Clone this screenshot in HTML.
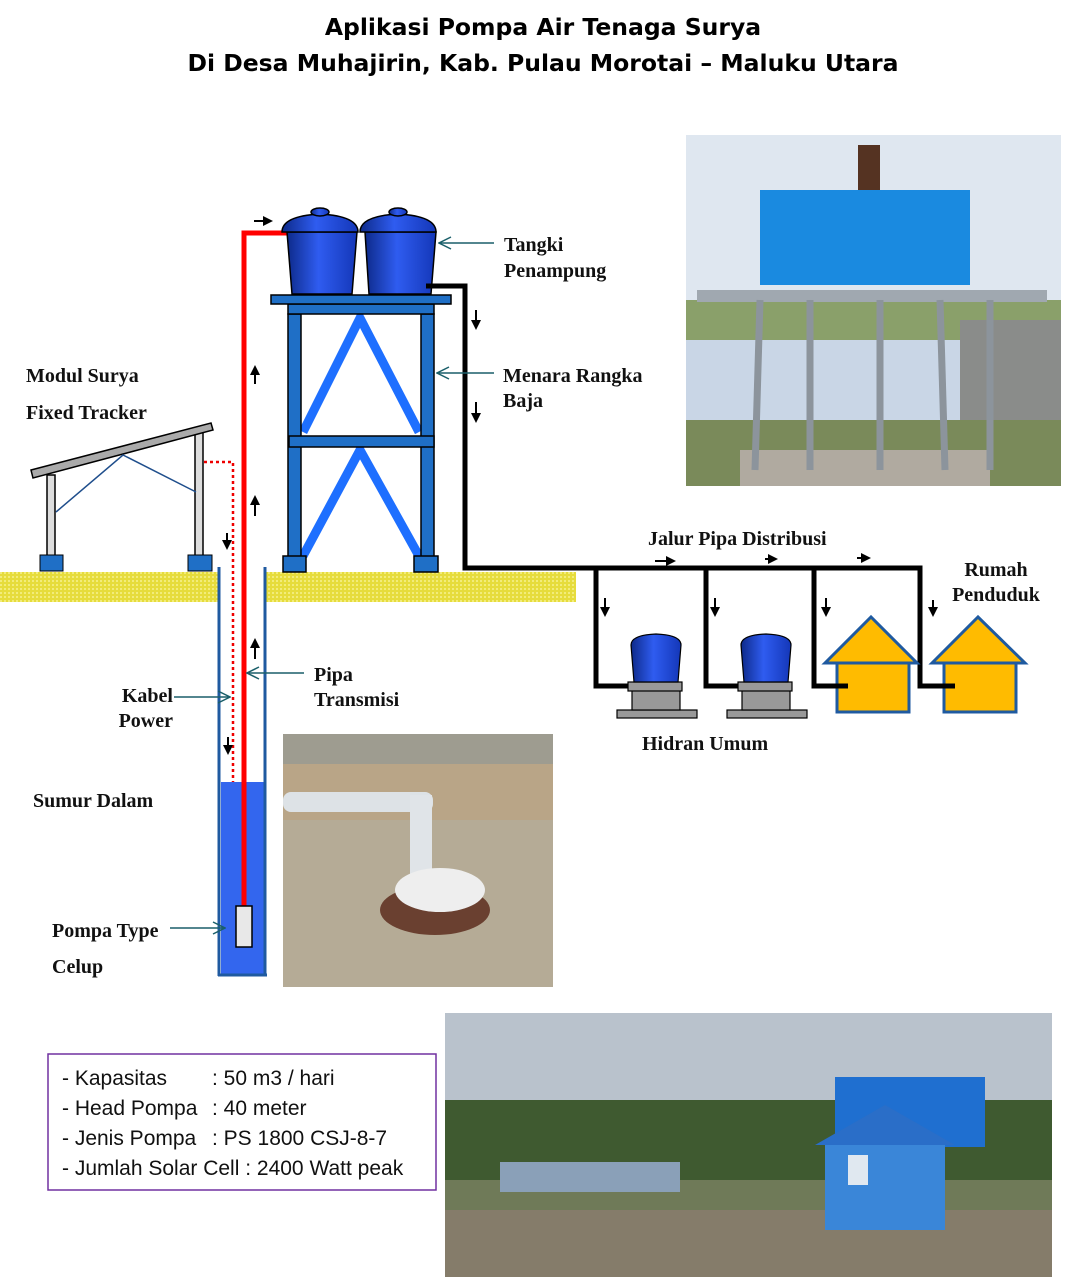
<!DOCTYPE html>
<html><head><meta charset="utf-8"><style>
html,body{margin:0;padding:0;background:#fff}
svg{display:block}
.t{font-family:"DejaVu Sans","Liberation Sans",sans-serif;font-weight:bold;font-size:23.5px;fill:#000}
.l{font-family:"Liberation Serif",serif;font-weight:bold;font-size:20px;fill:#111}
.i{font-family:"Liberation Sans Narrow","Liberation Sans",sans-serif;font-size:21px;fill:#111}
</style></head><body>
<svg width="1084" height="1277" viewBox="0 0 1084 1277" xmlns="http://www.w3.org/2000/svg">
<defs>
<pattern id="gr" width="4" height="4" patternUnits="userSpaceOnUse"><rect width="4" height="4" fill="#e6dc3c"/><rect width="2" height="2" fill="#f2ec7a"/></pattern>
<linearGradient id="tk" x1="0" x2="1"><stop offset="0" stop-color="#0d2a8a"/><stop offset="0.45" stop-color="#2f5cf0"/><stop offset="1" stop-color="#1437b8"/></linearGradient>
<marker id="ah" markerUnits="userSpaceOnUse" markerWidth="10" markerHeight="10" refX="5" refY="5" orient="auto"><path d="M0,0L10,5L0,10z" fill="#000"/></marker>
<marker id="oa" markerUnits="userSpaceOnUse" markerWidth="14" markerHeight="14" refX="13" refY="7" orient="auto"><path d="M1,1L13,7L1,13" fill="none" stroke="#1a5f6a" stroke-width="1.5"/></marker>
</defs>
<text class="t" x="543" y="35" text-anchor="middle">Aplikasi Pompa Air Tenaga Surya</text>
<text class="t" x="543" y="71" text-anchor="middle">Di Desa Muhajirin, Kab. Pulau Morotai – Maluku Utara</text>

<rect x="0" y="572" width="218" height="30" fill="url(#gr)"/>
<rect x="266" y="572" width="310" height="30" fill="url(#gr)"/>

<rect x="47" y="475" width="8" height="82" fill="#ddd" stroke="#000" stroke-width="1.5"/>
<rect x="195" y="430" width="8" height="127" fill="#ddd" stroke="#000" stroke-width="1.5"/>
<polygon points="31,470 211,423 213,430 33,478" fill="#aaa" stroke="#000" stroke-width="1.5"/>
<polyline points="56,512 123,455 196,492" fill="none" stroke="#1f4e8c" stroke-width="1.5"/>
<rect x="40" y="555" width="23" height="16" fill="#1f6fc6" stroke="#000"/>
<rect x="188" y="555" width="24" height="16" fill="#1f6fc6" stroke="#000"/>
<polyline points="204,462 233,462 233,900" fill="none" stroke="#e00" stroke-width="2.5" stroke-dasharray="3,3"/>

<rect x="221" y="782" width="44" height="193" fill="#3366ee"/>
<line x1="219" y1="567" x2="219" y2="976" stroke="#1f5aa0" stroke-width="3"/>
<line x1="265" y1="567" x2="265" y2="976" stroke="#1f5aa0" stroke-width="3"/>
<line x1="218" y1="975" x2="267" y2="975" stroke="#1f5aa0" stroke-width="3"/>
<polyline points="244,906 244,233 287,233" fill="none" stroke="#f00" stroke-width="5"/>
<rect x="236" y="906" width="16" height="41" fill="#e8e8e8" stroke="#000" stroke-width="1.5"/>

<g stroke="#000" stroke-width="2">
<line x1="255" y1="384" x2="255" y2="370" marker-end="url(#ah)"/>
<line x1="255" y1="516" x2="255" y2="500" marker-end="url(#ah)"/>
<line x1="255" y1="659" x2="255" y2="643" marker-end="url(#ah)"/>
<line x1="227" y1="533" x2="227" y2="545" marker-end="url(#ah)"/>
<line x1="228" y1="737" x2="228" y2="750" marker-end="url(#ah)"/>
<line x1="254" y1="221" x2="268" y2="221" marker-end="url(#ah)"/>
<line x1="476" y1="310" x2="476" y2="325" marker-end="url(#ah)"/>
<line x1="476" y1="402" x2="476" y2="418" marker-end="url(#ah)"/>
<line x1="655" y1="561" x2="671" y2="561" marker-end="url(#ah)"/>
<line x1="765" y1="559" x2="773" y2="559" marker-end="url(#ah)"/>
<line x1="857" y1="558" x2="866" y2="558" marker-end="url(#ah)"/>
<line x1="605" y1="598" x2="605" y2="612" marker-end="url(#ah)"/>
<line x1="715" y1="598" x2="715" y2="612" marker-end="url(#ah)"/>
<line x1="826" y1="598" x2="826" y2="612" marker-end="url(#ah)"/>
<line x1="933" y1="600" x2="933" y2="612" marker-end="url(#ah)"/>
</g>

<g stroke="#1e6fff" stroke-width="9">
<polyline points="303,432 360,318 419,432" fill="none"/>
<polyline points="303,556 360,450 419,556" fill="none"/>
</g>
<g fill="#1f6fc6" stroke="#000" stroke-width="1.5">
<rect x="288" y="314" width="13" height="244"/>
<rect x="421" y="314" width="13" height="244"/>
<rect x="288" y="304" width="146" height="10"/>
<rect x="271" y="295" width="180" height="9"/>
<rect x="289" y="436" width="145" height="11"/>
<rect x="283" y="556" width="23" height="16"/>
<rect x="414" y="556" width="24" height="16"/>
</g>
<g stroke="#000" stroke-width="1.5" fill="url(#tk)">
<path d="M287,232 L292,294 L352,294 L357,232 Z"/>
<path d="M282,232 Q282,216 320,214 Q358,216 358,232 Z"/>
<ellipse cx="320" cy="212" rx="9" ry="4"/>
<path d="M365,232 L369,294 L431,294 L436,232 Z"/>
<path d="M360,232 Q360,216 398,214 Q436,216 436,232 Z"/>
<ellipse cx="398" cy="212" rx="9" ry="4"/>
</g>

<g fill="none" stroke="#000" stroke-width="5">
<polyline points="426,286 465,286 465,568 920,568 920,686 955,686"/>
<polyline points="596,568 596,686 630,686"/>
<polyline points="706,568 706,686 740,686"/>
<polyline points="814,568 814,686 848,686"/>
</g>
<g stroke="#000" stroke-width="1.2">
<g>
<rect x="617" y="710" width="80" height="8" fill="#999"/>
<rect x="632" y="690" width="48" height="20" fill="#999"/>
<rect x="628" y="682" width="54" height="9" fill="#999"/>
<path d="M631,645 L634,682 L678,682 L681,645 Q681,635 656,634 Q631,635 631,645Z" fill="url(#tk)"/>
</g>
<g transform="translate(110,0)">
<rect x="617" y="710" width="80" height="8" fill="#999"/>
<rect x="632" y="690" width="48" height="20" fill="#999"/>
<rect x="628" y="682" width="54" height="9" fill="#999"/>
<path d="M631,645 L634,682 L678,682 L681,645 Q681,635 656,634 Q631,635 631,645Z" fill="url(#tk)"/>
</g>
</g>
<g fill="#ffbb00" stroke="#1f5aa0" stroke-width="3">
<rect x="837" y="663" width="72" height="49"/>
<polygon points="825,663 871,617 917,663"/>
<rect x="944" y="663" width="72" height="49"/>
<polygon points="932,663 978,617 1025,663"/>
</g>
<g stroke="#000" stroke-width="5"><line x1="918" y1="686" x2="955" y2="686"/><line x1="812" y1="686" x2="848" y2="686"/></g>

<g stroke="#1a5f6a" stroke-width="1.5">
<line x1="494" y1="243" x2="439" y2="243" marker-end="url(#oa)"/>
<line x1="494" y1="373" x2="437" y2="373" marker-end="url(#oa)"/>
<line x1="304" y1="673" x2="247" y2="673" marker-end="url(#oa)"/>
<line x1="174" y1="697" x2="230" y2="697" marker-end="url(#oa)"/>
<line x1="170" y1="928" x2="225" y2="928" marker-end="url(#oa)"/>
</g>
<text class="l" x="504" y="251">Tangki</text>
<text class="l" x="504" y="277">Penampung</text>
<text class="l" x="503" y="382">Menara Rangka</text>
<text class="l" x="503" y="407">Baja</text>
<text class="l" x="26" y="382">Modul Surya</text>
<text class="l" x="26" y="419">Fixed Tracker</text>
<text class="l" x="648" y="545">Jalur Pipa Distribusi</text>
<text class="l" x="996" y="576" text-anchor="middle">Rumah</text>
<text class="l" x="996" y="601" text-anchor="middle">Penduduk</text>
<text class="l" x="642" y="750">Hidran Umum</text>
<text class="l" x="314" y="681">Pipa</text>
<text class="l" x="314" y="706">Transmisi</text>
<text class="l" x="173" y="702" text-anchor="end">Kabel</text>
<text class="l" x="173" y="727" text-anchor="end">Power</text>
<text class="l" x="33" y="807">Sumur Dalam</text>
<text class="l" x="52" y="937">Pompa Type</text>
<text class="l" x="52" y="973">Celup</text>

<g>
<rect x="686" y="135" width="375" height="351" fill="#c9d6e6"/>
<rect x="686" y="135" width="375" height="180" fill="#dfe7f0"/>
<rect x="686" y="300" width="375" height="40" fill="#8aa06a"/>
<rect x="960" y="320" width="101" height="130" fill="#8a8c8a"/>
<rect x="686" y="420" width="375" height="66" fill="#7a8a5a"/>
<rect x="740" y="450" width="250" height="36" fill="#b0aaa0"/>
<rect x="760" y="190" width="210" height="95" fill="#1a8ae0"/>
<rect x="697" y="290" width="350" height="12" fill="#a0a8b0"/>
<g stroke="#8c949c" stroke-width="7">
<line x1="760" y1="300" x2="755" y2="470"/><line x1="810" y1="300" x2="810" y2="470"/>
<line x1="880" y1="300" x2="880" y2="470"/><line x1="940" y1="300" x2="945" y2="470"/>
<line x1="990" y1="300" x2="990" y2="470"/>
</g>
<rect x="858" y="145" width="22" height="45" fill="#553322"/>
</g>
<g>
<rect x="283" y="734" width="270" height="253" fill="#b9a587"/>
<rect x="283" y="734" width="270" height="30" fill="#9e9c90"/>
<rect x="283" y="820" width="270" height="167" fill="#b5ab96"/>
<rect x="283" y="792" width="150" height="20" rx="8" fill="#dde2e6"/>
<rect x="410" y="795" width="22" height="80" fill="#e0e4e8"/>
<ellipse cx="435" cy="910" rx="55" ry="25" fill="#6a4030"/>
<ellipse cx="440" cy="890" rx="45" ry="22" fill="#eeeeee"/>
</g>
<g>
<rect x="445" y="1013" width="607" height="264" fill="#b9c2cc"/>
<rect x="445" y="1100" width="607" height="80" fill="#3f5a30"/>
<rect x="445" y="1180" width="607" height="97" fill="#6f7a58"/>
<rect x="445" y="1210" width="607" height="67" fill="#857c6a"/>
<rect x="500" y="1162" width="180" height="30" fill="#8aa0b8"/>
<rect x="835" y="1077" width="150" height="70" fill="#1f6fd0"/>
<polygon points="815,1145 885,1105 955,1145" fill="#2a6ec8"/>
<rect x="825" y="1145" width="120" height="85" fill="#3a86d8"/>
<rect x="848" y="1155" width="20" height="30" fill="#e0e8f0"/>
</g>

<rect x="48" y="1054" width="388" height="136" fill="#fff" stroke="#7030a0" stroke-width="1.5"/>
<text class="i" x="62" y="1085">- Kapasitas</text><text class="i" x="212" y="1085">: 50 m3 / hari</text>
<text class="i" x="62" y="1115">- Head Pompa</text><text class="i" x="212" y="1115">: 40 meter</text>
<text class="i" x="62" y="1145">- Jenis Pompa</text><text class="i" x="212" y="1145">: PS 1800 CSJ-8-7</text>
<text class="i" x="62" y="1175">- Jumlah  Solar Cell  : 2400  Watt peak</text>
</svg>
</body></html>
